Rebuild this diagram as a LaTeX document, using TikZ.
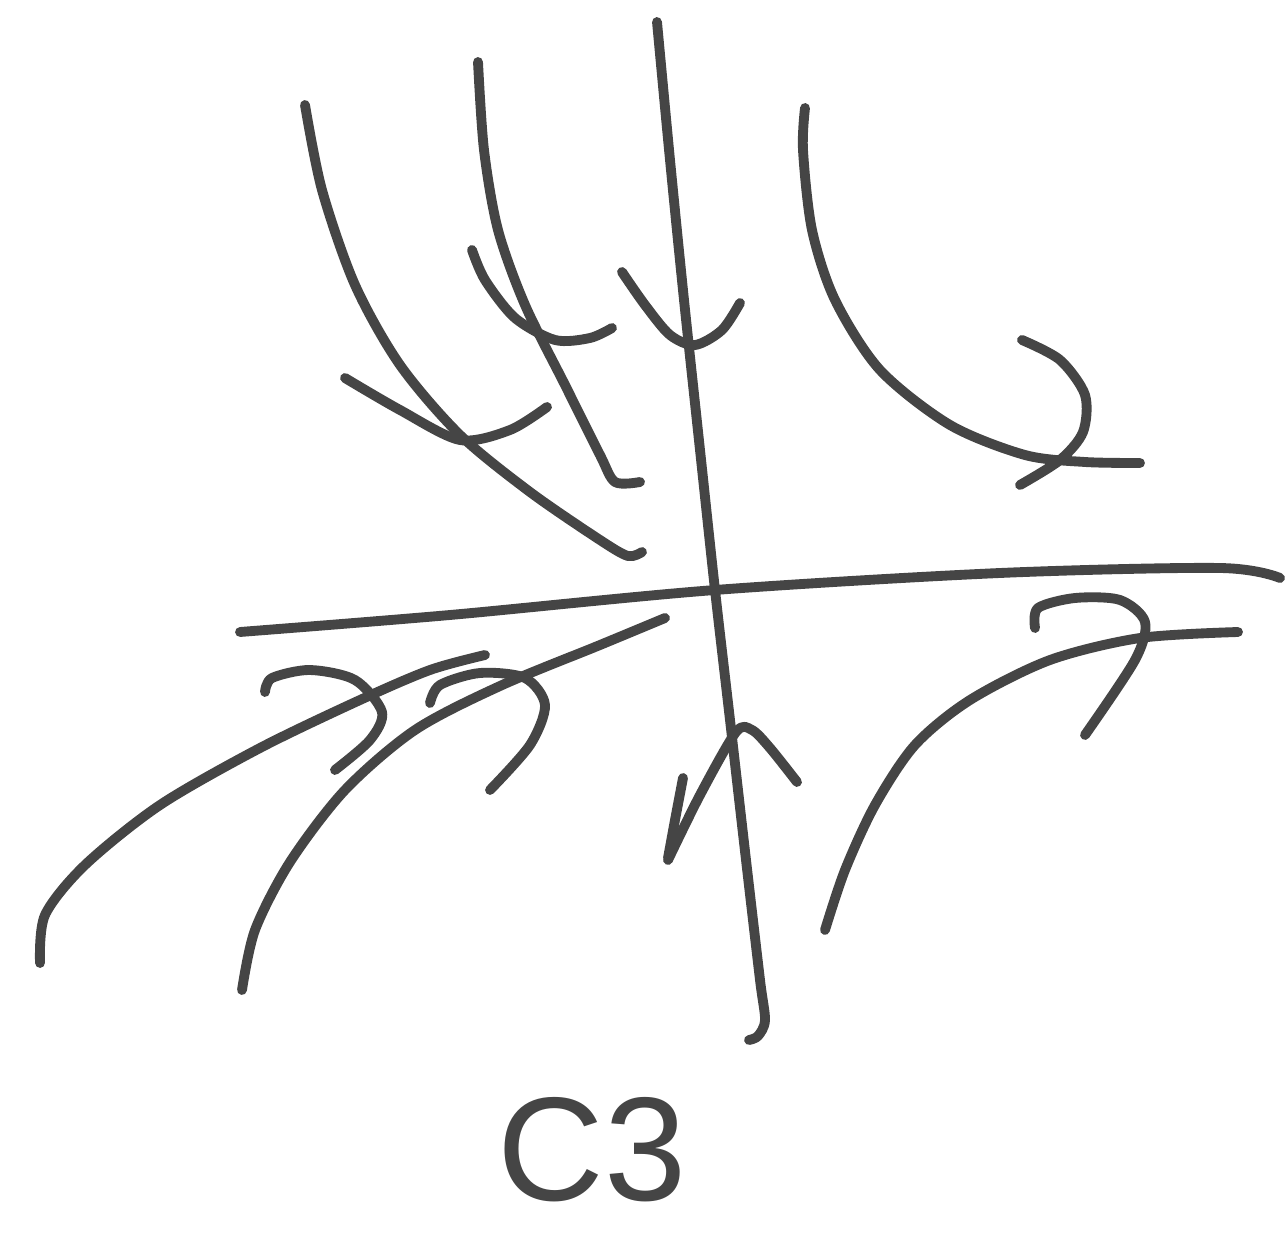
\documentclass[tikz,border=0pt]{standalone}
\usepackage{fontspec}
\setmainfont{Liberation Sans}
\definecolor{ink}{HTML}{454545}

\begin{document}
\begin{tikzpicture}[x=0.01cm, y=-0.01cm, pen/.style={draw=ink,line width=2.8pt,line cap=round,line join=round}, lettering/.style={font=\fontsize{42}{46}\selectfont,text=ink,inner sep=0pt}]
\useasboundingbox (0,0) rectangle (1285,1237);
\draw[pen] plot[smooth] coordinates {(657,22) (670,160) (684,300) (700,450) (715,590) (730,720) (746,860) (760,980) (765,1020) (758,1036) (749,1040)};
\draw[pen] plot[smooth] coordinates {(240,632) (450,615) (715,590) (1000,573) (1220,568) (1280,578)};
\draw[pen] plot[smooth] coordinates {(305,105) (322,190) (355,285) (400,365) (460,435) (530,492) (600,540) (628,556) (642,552)};
\draw[pen] plot[smooth] coordinates {(345,378) (400,410) (460,440) (510,430) (547,407)};
\draw[pen] plot[smooth] coordinates {(478,62) (484,150) (498,230) (525,305) (565,385) (600,455) (615,482) (640,482)};
\draw[pen] plot[smooth] coordinates {(472,250) (485,280) (515,318) (555,340) (590,338) (612,328)};
\draw[pen] plot[smooth] coordinates {(622,272) (645,305) (670,335) (695,345) (722,330) (740,303)};
\draw[pen] plot[smooth] coordinates {(805,108) (803,150) (812,230) (835,300) (880,370) (950,425) (1025,455) (1085,462) (1140,463)};
\draw[pen] plot[smooth] coordinates {(1022,340) (1060,360) (1085,395) (1083,432) (1060,460) (1020,485)};
\draw[pen] plot[smooth] coordinates {(40,963) (45,915) (85,865) (160,805) (260,748) (360,700) (430,670) (485,655)};
\draw[pen] plot[smooth] coordinates {(265,692) (272,678) (310,670) (355,680) (382,712) (370,740) (335,770)};
\draw[pen] plot[smooth] coordinates {(430,703) (440,685) (480,673) (525,678) (545,705) (530,745) (490,790)};
\draw[pen] plot[smooth] coordinates {(242,990) (255,930) (290,862) (345,790) (415,730) (500,686) (600,645) (665,618)};
\draw[pen] plot[smooth] coordinates {(825,930) (845,870) (875,805) (915,745) (970,700) (1050,660) (1140,638) (1238,632)};
\draw[pen] plot[smooth] coordinates {(1035,628) (1038,608) (1075,598) (1120,600) (1145,622) (1135,660) (1085,735)};
\draw[pen] plot[smooth] coordinates {(668,860) (700,795) (736,732) (752,730) (770,748) (797,782)};
\draw[pen] plot[smooth] coordinates {(683,778) (675,820) (668,858)};
\node[lettering] (tag) at (592,1150) {C3};
\end{tikzpicture}
\end{document}
